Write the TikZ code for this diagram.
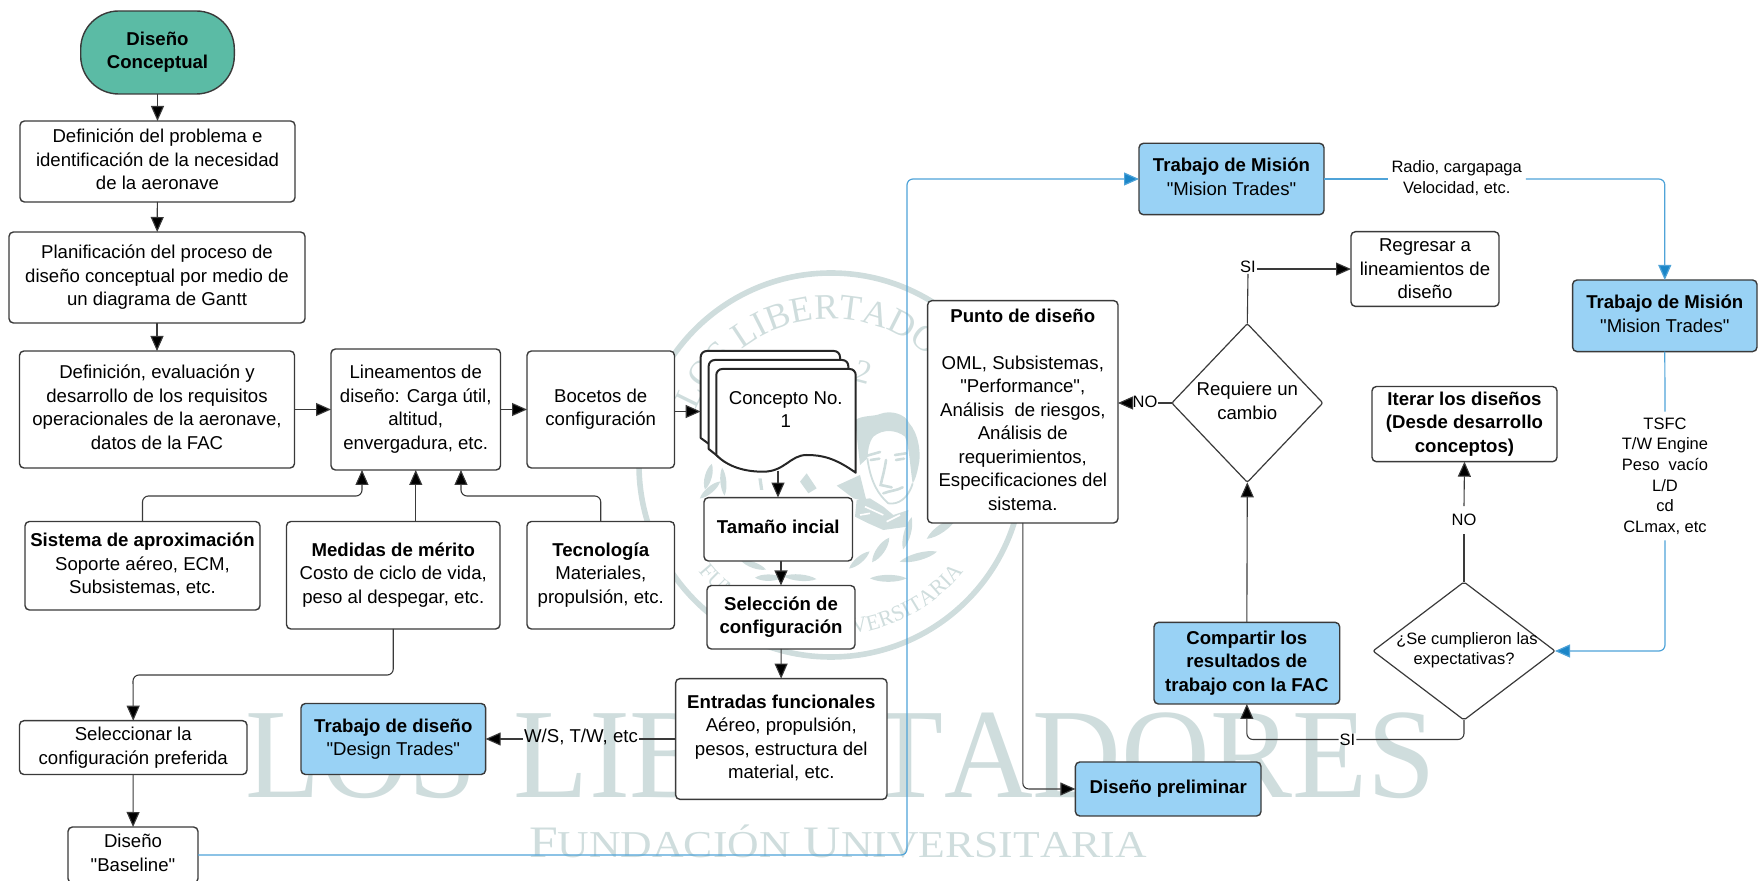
\documentclass[tikz,border=0pt]{standalone}
\usepackage{fontspec}
\setmainfont{Liberation Sans}[Ligatures=TeXOff]
\newfontfamily\wmf{Liberation Serif}[Kerning=Off]
\usetikzlibrary{arrows.meta,shapes.geometric,decorations.text,calc}
\definecolor{wm}{HTML}{CFDDDD}
\definecolor{edge}{HTML}{3A3A3A}
\definecolor{sky}{HTML}{99D2F5}
\definecolor{teal1}{HTML}{5BBBA5}
\definecolor{bline}{HTML}{4FA3D8}
\definecolor{bhead}{HTML}{1B86C8}
\newcommand\up{\\[\dimexpr 2.3pt-\baselineskip]\mbox{}}
\newcommand\wmA{\fontsize{18}{18}\wmf\color{wm}}
\newcommand\wmB{\fontsize{11}{11}\wmf\color{wm}}
\newcommand\leaf[5]{\fill[wm,shift={(#1,#2)},rotate=#3,xscale=#4,yscale=#5] (-1,0) .. controls (-.5,1) and (.5,1) .. (1,0) .. controls (.5,-1) and (-.5,-1) .. cycle;}
\tikzset{
  x=0.5pt,y=-0.5pt,
  every node/.style={inner sep=0pt,outer sep=0pt,align=center,font=\fontsize{9.3}{11.75}\selectfont},
  corners/.style args={#1,#2,#3,#4}{at={({(#1+#3)/2},{(#2+#4)/2})},minimum width={(#3-#1)*0.5pt},minimum height={(#4-#2)*0.5pt}},
  box/.style={rectangle,draw=edge,fill=white,line width=0.7pt,rounded corners=2.2pt},
  bluebox/.style={box,fill=sky},
  startbox/.style={box,fill=teal1,rounded corners=19pt},
  decide/.style={diamond,draw=edge,fill=white,line width=0.6pt,inner sep=-25pt,rounded corners=1pt},
  lbl/.style={font=\fontsize{8.25}{10.3}\selectfont,inner sep=0.5pt},
  lblbig/.style={inner sep=0.5pt},
  line/.style={draw=edge,line width=0.55pt,rounded corners=3pt},
  conn/.style={line,-{Triangle[length=7.5pt,width=6.5pt,fill=black]}},
  blueline/.style={draw=bline,line width=0.6pt,rounded corners=3pt},
  blueconn/.style={blueline,-{Triangle[length=7.5pt,width=6.5pt,fill=bhead]}},
  sheet/.style={draw=black!85,fill=white,line width=1pt,line join=round},
}
\begin{document}
\begin{tikzpicture}
\useasboundingbox (0,0) rectangle (1758,881);
% ---------- watermark ----------
\draw[wm,line width=2.8pt] (831,465) circle[radius=192];
\coordinate (wc) at (831,465);
\path[decorate,decoration={text along path,text align=center,text={|\wmA|LOS LIBERTADORES}}]
  (wc) ++(170:73pt) arc[start angle=170,end angle=10,radius=73pt];
\path[decorate,decoration={text along path,text align=center,text={|\wmB|FUNDACIÓN UNIVERSITARIA}}]
  (wc) ++(205:85pt) arc[start angle=205,end angle=335,radius=85pt];
\node[wm,rotate=-15,font=\fontsize{16.5}{16.5}\wmf] (wmyear) at (863,372) {2};
% portrait and leaves, drawn in 1/3-pixel units
\begin{scope}[shift={(850,400)},x=0.16667pt,y=-0.16667pt]
  \leaf{92}{450}{55}{45}{16}
  \leaf{172}{400}{75}{50}{14}
  \leaf{205}{470}{15}{58}{15}
  \leaf{115}{535}{0}{55}{14}
  \leaf{275}{385}{35}{55}{16}
  \leaf{28}{480}{40}{40}{13}
  \fill[wm] (15,60) .. controls (40,45) and (70,50) .. (90,42) .. controls (120,30) and (165,40) .. (178,70) .. controls (205,100) and (215,160) .. (205,200) .. controls (200,225) and (195,240) .. (188,250) .. controls (180,200) and (178,140) .. (165,110) .. controls (140,90) and (100,85) .. (70,110) .. controls (55,130) and (55,150) .. (52,175) -- (30,195) -- cycle;
  \draw[wm,line width=0.9pt] (52,175) .. controls (60,230) and (75,275) .. (115,310) .. controls (145,315) and (175,295) .. (188,250);
  \draw[wm,line width=1.3pt,line cap=round] (48,168) -- (90,156) (135,165) -- (168,160) (62,180) -- (88,176) (138,180) -- (162,176) (108,180) .. controls (104,210) and (95,240) .. (92,255) -- (125,262) (100,280) .. controls (120,272) and (140,272) .. (158,262);
  \fill[wm] (20,300) -- (60,295) -- (100,320) -- (130,345) -- (175,330) -- (172,380) -- (100,390) -- (55,370) -- (15,350) -- cycle;
  \draw[white,line width=0.8pt] (45,320) -- (100,345) (30,345) -- (60,340) (110,365) -- (150,345);
\end{scope}
\begin{scope}[shift={(640,465)},x=0.16667pt,y=-0.16667pt]
  \leaf{205}{35}{75}{40}{14}
  \leaf{250}{50}{95}{42}{12}
  \leaf{210}{75}{40}{40}{13}
  \leaf{385}{338}{0}{40}{13}
  \leaf{480}{338}{175}{50}{13}
  \leaf{340}{300}{-20}{40}{12}
  \fill[wm] (480,50) -- (500,25) -- (530,70) -- (505,85) -- cycle;
  \fill[wm] (590,62) -- (660,30) -- (680,110) -- (640,100) -- cycle;
  \fill[wm] (355,40) -- (365,40) -- (370,75) -- (360,75) -- cycle;
\end{scope}
\node[anchor=base west,wm,font=\fontsize{64}{64}\wmf] (wmbig) at (245,798) {\scalebox{0.96}[1]{LOS\hspace{0.3em}LIBERTADORES}};
\node[anchor=base west,wm,font=\fontsize{22.5}{22.5}\wmf] (wmsub) at (529,858) {\scalebox{1.15}[1]{F{\fontsize{19}{19}\selectfont UNDACIÓN} U{\fontsize{19}{19}\selectfont NIVERSITARIA}}};

% ---------- nodes ----------
\node[startbox,corners={80.7,11,234.3,94}] (start) {\textbf{Diseño}\\\textbf{Conceptual}\up};
\node[box,corners={20,121,295,202}] (prob) {Definición del problema e\\identificación de la necesidad\\de la aeronave\up};
\node[box,corners={9,232,305,323}] (plan) {Planificación del proceso de\\diseño conceptual por medio de\\un diagrama de Gantt\up};
\node[box,corners={19.5,351,294.5,468}] (reqs) {Definición, evaluación y\\desarrollo de los requisitos\\operacionales de la aeronave,\\datos de la FAC\up};
\node[box,corners={331,349,500.5,470}] (lin) {Lineamentos de\\diseño: Carga útil,\\altitud,\\envergadura, etc.\up};
\node[box,corners={527,351,674.5,468}] (boc) {Bocetos de\\configuración\up};
\node[box,corners={25,521.5,260,610}] (sis) {\textbf{Sistema de aproximación}\\Soporte aéreo, ECM,\\Subsistemas, etc.\up};
\node[box,corners={286.5,521.5,500,629}] (med) {\textbf{Medidas de mérito}\\Costo de ciclo de vida,\\peso al despegar, etc.\up};
\node[box,corners={527,521.5,674.5,629}] (tec) {\textbf{Tecnología}\\Materiales,\\propulsión, etc.\up};
\node[box,corners={704,497.6,852.5,561}] (tam) {\textbf{Tamaño incial}\up};
\node[box,corners={707,585.5,855,649}] (sel) {\textbf{Selección de}\\\textbf{configuración}\up};
\node[box,corners={675.6,678.6,887,799.4}] (ent) {\textbf{Entradas funcionales}\\Aéreo, propulsión,\\pesos, estructura del\\material, etc.\up};
\node[bluebox,corners={301,703.5,485.6,774.5}] (tdis) {\textbf{Trabajo de diseño}\\"Design Trades"};
\node[box,corners={19.5,720.7,247,774.5}] (pref) {Seleccionar la\\configuración preferida};
\node[box,corners={68,827,198,883}] (base) {Diseño\\"Baseline"\up};
\node[bluebox,corners={1139,143.3,1324,214.7}] (m1) {\textbf{Trabajo de Misión}\\"Mision Trades"\up};
\node[bluebox,corners={1572.6,280,1757,351.6}] (m2) {\textbf{Trabajo de Misión}\\"Mision Trades"\up};
\node[box,corners={1351,231.7,1499,306.4}] (reg) {Regresar a\\lineamientos de\\diseño};
\node[box,corners={927.6,300.6,1118,523}] (pto) {\textbf{Punto de diseño}\\[11.75pt]OML, Subsistemas,\\"Performance",\\Análisis\ \ de riesgos,\\Análisis de\\requerimientos,\\Especificaciones del\\sistema.\up};
\node[box,corners={1372,386.5,1557,461.7}] (ite) {\textbf{Iterar los diseños}\\\textbf{(Desde desarrollo}\\\textbf{conceptos)}\up};
\node[bluebox,corners={1154,622.4,1339.7,704}] (com) {\textbf{Compartir los}\\\textbf{resultados de}\\\textbf{trabajo con la FAC}\up};
\node[bluebox,corners={1075.4,762,1261,816}] (pre) {\textbf{Diseño preliminar}\up};
\node[decide,minimum width=75.5pt,minimum height=79.3pt,shape aspect=0.95] (dr) at (1247.3,403) {Requiere un\\cambio\up};
\node[decide,minimum width=91pt,minimum height=69pt,shape aspect=1.32,font=\fontsize{8.25}{10.3}\selectfont] (dc) at (1464,651) {\hspace*{3pt}¿Se cumplieron las\\expectativas?\up};

% document stack
\path[sheet] (700.7,438) [rounded corners=3pt] -- (700.7,351) -- (840,351) -- (840,372) [sharp corners] -- (720,372) -- (720,452) -- cycle;
\path[sheet] (708.7,449) [rounded corners=3pt] -- (708.7,360) -- (848.3,360) -- (848.3,380) [sharp corners] -- (725,380) -- (725,462) -- cycle;
\path[sheet] (716.3,455) [rounded corners=3pt] -- (716.3,369) -- (855.7,369) [sharp corners] -- (855.7,472.7) .. controls (835,458) and (822,455) .. (806.7,455) .. controls (790,455) and (785,471.7) .. (763,471.7) .. controls (745,471.7) and (728,467) .. (716.3,455) -- cycle;
\node (doc) at (785.7,409.7) {Concepto No.\\1};
\coordinate (docin) at (700.7,411.5);
\coordinate (docout) at (778,471);

% connector labels
\node[lblbig] (lws) at (581,737) {W/S, T/W, etc};
\node[lbl,inner sep=2pt] (lrad) at (1456.7,178) {Radio, cargapaga\\Velocidad, etc.};
\node[lbl,inner sep=3pt] (ltsfc) at (1665,476) {TSFC\\T/W Engine\\Peso\ \ vacío\\L/D\\cd\\CLmax, etc};
\node[lbl] (lsi) at (1248,267) {SI};
\node[lbl] (lno) at (1145,402) {NO};
\node[lbl,inner sep=4pt] (lno2) at (1464,520) {NO};
\node[lbl] (lsi2) at (1347.5,739.5) {SI};

% connectors
\draw[conn] (start) -- (prob);
\draw[conn] (prob) -- (plan);
\draw[conn] (plan) -- (reqs);
\draw[conn] (reqs) -- (lin);
\draw[conn] (lin) -- (boc);
\draw[conn] (boc.east |- docin) -- (docin);
\draw[conn] (docout) -- (tam.north -| docout);
\draw[conn] (tam.south -| sel.north) -- (sel.north);
\draw[conn] (sel) -- (ent);
\coordinate (jl) at (362,496);
\coordinate (jr) at (461,496);
\draw[conn] (sis.north) |- (jl) -- (jl |- lin.south);
\draw[conn] (lin.south |- med.north) -- (lin.south);
\draw[conn] (tec.north) |- (jr) -- (jr |- lin.south);
\coordinate (jm) at (133,675);
\draw[conn] (med.south) |- (jm) -- (pref.north);
\draw[conn] (pref) -- (base);
\draw[line] (ent.west) -- (lws.east |- ent.west);
\draw[conn] (lws.west |- ent.west) -- (tdis.east);
\coordinate (bv) at (907,855);
\draw[blueconn] (base.east) -- (bv) |- (m1.west);
\draw[blueline] (m1.east) -- (m1.east -| lrad.west);
\draw[blueconn] (m1.east -| lrad.east) -| (m2.north);
\draw[blueline] (m2.south) -- (ltsfc.north);
\draw[blueconn] (ltsfc.south) |- (dc.east);
\draw[line] (dr.north) -- (lsi.south);
\draw[conn] (lsi.east |- reg.west) -- (reg.west);
\draw[line] (dr.west) -- (lno.east |- dr.west);
\draw[conn] (lno.west |- dr.west) -- (pto.east |- dr.west);
\draw[conn] (com.north) -- (dr.south);
\draw[line] (dc.north) -- (lno2.south);
\draw[conn] (lno2.north) -- (ite.south);
\draw[line] (dc.south) |- (lsi2.east);
\draw[conn] (lsi2.west) -| (com.south);
\draw[conn] (pto.south) |- (pre.west);
\end{tikzpicture}
\end{document}
